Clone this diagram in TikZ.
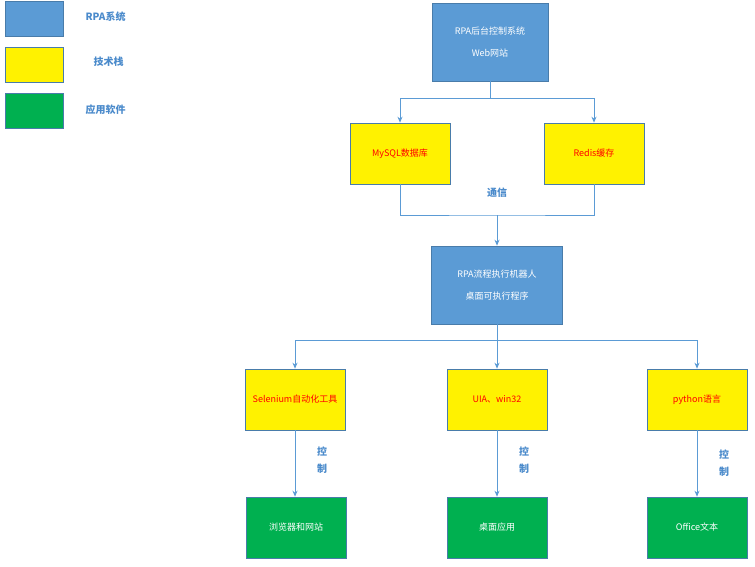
\documentclass[tikz,border=0pt]{standalone}
\usepackage{fontspec}
\setmainfont{Liberation Sans}
\newfontfamily\cjk{Noto Sans CJK SC}
\usetikzlibrary{arrows.meta}
\definecolor{rblue}{HTML}{5B9BD5}
\definecolor{rgreen}{HTML}{00B050}
\definecolor{lbl}{HTML}{4A8ACB}
\begin{document}
\begin{tikzpicture}[x=1pt,y=-1pt,
 box/.style={draw=rblue!80!black,line width=0.6pt,minimum width=#1,inner sep=0pt,font=\cjk\fontsize{9}{16}\selectfont,align=center},
 sys/.style={box=116pt,fill=rblue,text=white,minimum height=78pt},
 tech/.style={box=100pt,fill=yellow,text=red,minimum height=61pt,text width=96pt},
 app/.style={box=100pt,fill=rgreen,text=white,minimum height=61pt},
 con/.style={draw=rblue,line width=0.9pt},
 arr/.style={con,-{Stealth[length=6pt,width=5pt]}},
 lab/.style={font=\cjk\bfseries\fontsize{10}{17}\selectfont,text=lbl,align=center},
 leg/.style={draw=rblue!80!black,line width=0.6pt,minimum width=58pt,minimum height=35pt,inner sep=0pt}]
\useasboundingbox (0,0) rectangle (755,567);
% legend
\node[leg,fill=rblue] (l1) at (34,19) {};
\node[leg,fill=yellow] (l2) at (34,65) {};
\node[leg,fill=rgreen] (l3) at (34,111) {};
\node[lab,anchor=west] (t1) at (82,17) {RPA系统};
\node[lab,anchor=west] (t2) at (90,62) {技术栈};
\node[lab,anchor=west] (t3) at (82,110) {应用软件};
% nodes
\node[sys] (top) at (490,42) {RPA后台控制系统\\[6pt]Web网站};
\node[tech] (mysql) at (400,153.5) {MySQL数据库};
\node[tech] (redis) at (594,153.5) {Redis缓存};
\node[sys,minimum width=131pt] (mid) at (497,285) {RPA流程执行机器人\\[6pt]桌面可执行程序};
\node[tech] (sel) at (295,399.5) {Selenium自动化工具};
\node[tech] (uia) at (497,399.5) {UIA、win32};
\node[tech] (py) at (697,399.5) {python语言};
\node[app] (g1) at (296,527.5) {浏览器和网站};
\node[app] (g2) at (497,527.5) {桌面应用};
\node[app] (g3) at (697,527.5) {Office文本};
% connectors
\coordinate (j1) at (490,98);
\draw[con] (top.south) -- (j1);
\draw[arr] (j1) -| (mysql.north);
\draw[arr] (j1) -| (redis.north);
\coordinate (j2) at (497,215);
\draw[con] (mysql.south) |- (j2) -| (redis.south);
\draw[arr] (j2) -- (mid.north);
\node[lab] (tx) at (497,193) {通信};
\coordinate (j3) at (497,340);
\draw[con] (mid.south) -- (j3);
\draw[arr] (j3) -| (sel.north);
\draw[arr] (j3) -- (uia.north);
\draw[arr] (j3) -| (py.north);
\draw[arr] (sel.south) -- (sel.south |- g1.north);
\draw[arr] (uia.south) -- (g2.north);
\draw[arr] (py.south) -- (g3.north);
\node[lab] (c1) at (322,460) {控\\制};
\node[lab] (c2) at (524,460) {控\\制};
\node[lab] (c3) at (724,463) {控\\制};
\end{tikzpicture}
\end{document}
